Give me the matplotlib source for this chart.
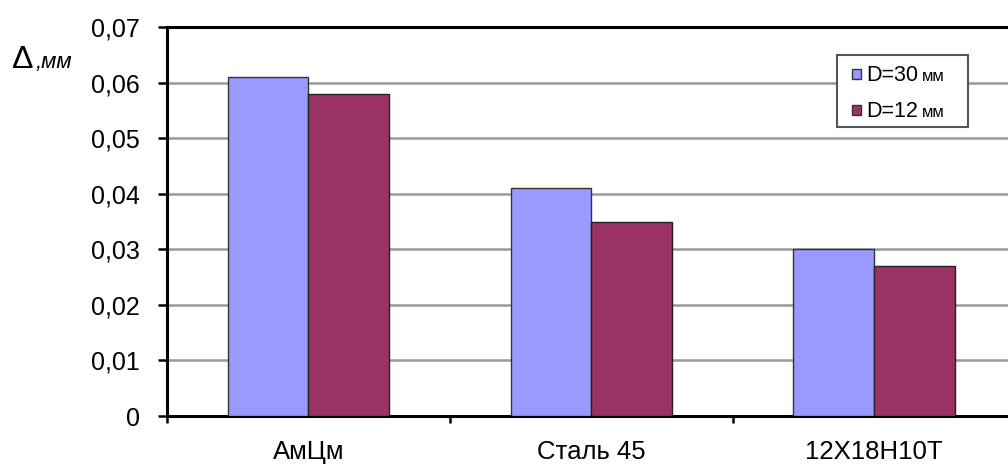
import numpy as np
import matplotlib
matplotlib.use("Agg")
import matplotlib.pyplot as plt
from matplotlib.patches import Rectangle
from matplotlib.ticker import FixedLocator, FuncFormatter

plt.rcParams['font.family'] = ['Liberation Sans', 'DejaVu Sans']

categories = ["АмЦм", "Сталь 45", "12Х18Н10Т"]
series_names = ["D=30", "D=12"]
unit = "мм"
d30 = [0.061, 0.041, 0.030]
d12 = [0.058, 0.035, 0.027]
y_ticks = [0, 0.01, 0.02, 0.03, 0.04, 0.05, 0.06, 0.07]

colors = ["#9999FF", "#993366"]
W, H = 1008, 468

fig = plt.figure(figsize=(W / 100, H / 100), dpi=100)
ax = fig.add_axes([0.1657, 0.1111, 0.842, 0.8312])

x = np.arange(len(categories))
w = 0.2857
ax.bar(x - w / 2, d30, width=w, color=colors[0], edgecolor="#333333", linewidth=1.0, zorder=3)
ax.bar(x + w / 2, d12, width=w, color=colors[1], edgecolor="#222222", linewidth=1.0, zorder=3)

ax.set_xlim(-0.5, len(categories) - 0.5)
ax.set_ylim(0, 0.07)
ax.yaxis.set_major_locator(FixedLocator(y_ticks))
ax.yaxis.set_major_formatter(FuncFormatter(lambda v, p: "0" if v == 0 else f"{v:.2f}".replace(".", ",")))
ax.grid(axis="y", color="#999999", linewidth=1.8, zorder=0)

ax.set_xticks(x)
ax.set_xticklabels(categories, fontsize=18.5)
ax.xaxis.set_minor_locator(FixedLocator(np.arange(-0.5, len(categories), 1.0)))
ax.tick_params(axis="x", which="major", length=0, pad=17)
ax.tick_params(axis="x", which="minor", length=5, width=1.8, direction="out")
ax.tick_params(axis="y", length=6.5, width=1.8, direction="out", labelsize=18, pad=13)

for side in ["left", "bottom", "top"]:
    ax.spines[side].set_linewidth(2.2)
    ax.spines[side].set_color("black")
ax.spines["right"].set_visible(False)

# Legend box, drawn in figure pixel space
def px(xp, yp):
    return xp / W, 1 - yp / H

fx, fy = px(837, 127)
fig.patches.append(Rectangle((fx, fy), 131 / W, 72 / H, transform=fig.transFigure,
                             facecolor="white", edgecolor="#555555", linewidth=1.5, zorder=5))
fig.canvas.draw()
renderer = fig.canvas.get_renderer()
label_fs = 15.5
unit_fs = 12
for i, (name, col) in enumerate(zip(series_names, colors)):
    yc = 74 + 36 * i
    sx, sy = px(852, yc + 4.5)
    fig.patches.append(Rectangle((sx, sy), 9 / W, 9 / H, transform=fig.transFigure,
                                 facecolor=col, edgecolor="#333333", linewidth=1.0, zorder=6))
    tx, ty = px(866, yc + 7)
    t = fig.text(tx, ty, name, fontsize=label_fs, ha="left", va="baseline", zorder=7)
    bb = t.get_window_extent(renderer)
    fig.text((bb.x1 + 4) / W, ty, unit, fontsize=unit_fs, ha="left", va="baseline", zorder=7)

fig.text(0.012, 1 - 68 / H, "Δ", fontsize=23, ha="left", va="baseline")
fig.text(0.035, 1 - 68 / H, ",мм", fontsize=16, style="italic", ha="left", va="baseline")

fig.savefig("out.png", dpi=100)
